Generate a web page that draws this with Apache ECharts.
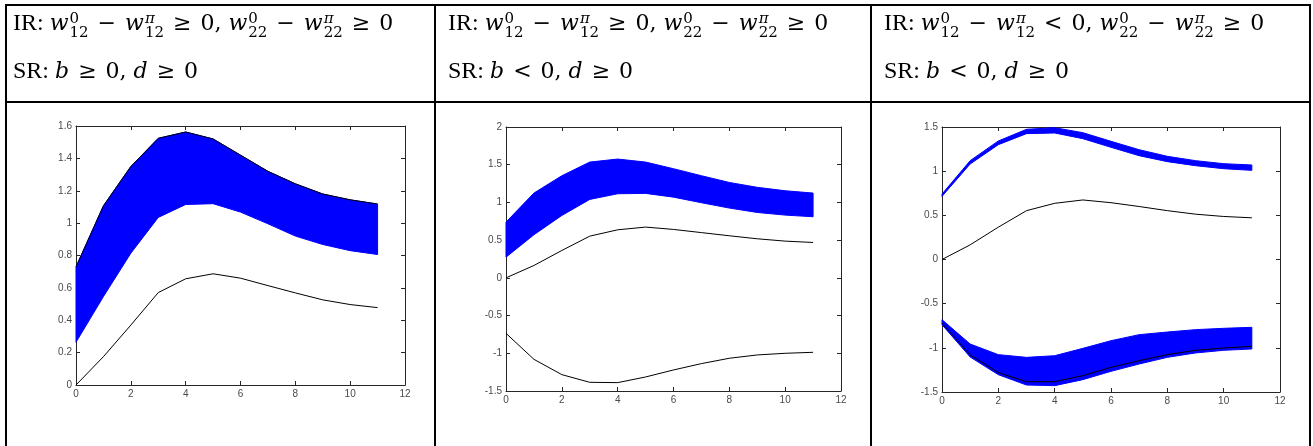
<!DOCTYPE html>
<html>
<head>
<meta charset="utf-8">
<script src="https://cdn.jsdelivr.net/npm/echarts@6/dist/echarts.min.js"></script>
<style>
  html, body { margin:0; padding:0; background:#fff; }
  #wrap { position:relative; width:1313px; height:446px; overflow:hidden; }
  #chart { position:absolute; left:0; top:0; width:1313px; height:446px; }
  .bl { position:absolute; background:#000; }
  .hd { position:absolute; font-family:"Liberation Serif","Times New Roman",serif; font-size:24px; line-height:28px; white-space:nowrap; color:#000; }
  .m { font-family:"DejaVu Serif", serif; font-size:22px; }
  .hd i { font-style:italic; }
  .ss { display:inline-block; vertical-align:-7px; font-family:"DejaVu Serif", serif; font-size:15px; line-height:14px; text-align:left; margin-left:1px; }
  .ss span { display:block; }
  .ss .pi { font-style:italic; }
  .op { margin:0 9px; }
</style>
</head>
<body>
<div id="wrap">
  <div id="chart"></div>
</div>
<script>
// ---------- data ----------
const steps = [0, 1, 2, 3, 4, 5, 6, 7, 8, 9, 10, 11];

// Panel 1
const p1BandUpper = [0.73, 1.107, 1.35, 1.524, 1.563, 1.52, 1.42, 1.32, 1.243, 1.18, 1.144, 1.118];
const p1BandLower = [0.264, 0.546, 0.814, 1.035, 1.115, 1.12, 1.068, 0.996, 0.92, 0.868, 0.83, 0.806];
const p1LineTop   = [0.73, 1.107, 1.35, 1.524, 1.563, 1.52, 1.42, 1.32, 1.243, 1.18, 1.144, 1.118];
const p1LineLow   = [0, 0.175, 0.37, 0.571, 0.656, 0.687, 0.66, 0.614, 0.569, 0.526, 0.497, 0.478];

// Panel 2
const p2BandUpper = [0.739, 1.124, 1.354, 1.535, 1.575, 1.535, 1.447, 1.354, 1.265, 1.2, 1.155, 1.124];
const p2BandLower = [0.274, 0.571, 0.827, 1.04, 1.115, 1.12, 1.07, 0.996, 0.925, 0.867, 0.832, 0.81];
const p2LinePos   = [0, 0.164, 0.363, 0.553, 0.637, 0.673, 0.642, 0.6, 0.558, 0.518, 0.487, 0.469];
const p2LineNeg   = [-0.735, -1.08, -1.283, -1.385, -1.389, -1.314, -1.221, -1.137, -1.066, -1.022, -1.0, -0.987];

// Panel 3
const p3TopBandUpper = [0.741, 1.119, 1.342, 1.474, 1.492, 1.436, 1.338, 1.243, 1.168, 1.119, 1.085, 1.07];
const p3TopBandLower = [0.715, 1.081, 1.3, 1.425, 1.432, 1.368, 1.27, 1.175, 1.108, 1.062, 1.028, 1.009];
const p3BotBandUpper = [-0.681, -0.957, -1.077, -1.108, -1.089, -1.006, -0.919, -0.851, -0.821, -0.794, -0.779, -0.768];
const p3BotBandLower = [-0.738, -1.104, -1.304, -1.421, -1.428, -1.36, -1.266, -1.183, -1.108, -1.058, -1.028, -1.013];
const p3LinePos      = [0, 0.166, 0.366, 0.553, 0.636, 0.674, 0.643, 0.6, 0.553, 0.513, 0.487, 0.472];
const p3LineNeg      = [-0.719, -1.08, -1.28, -1.383, -1.383, -1.315, -1.221, -1.145, -1.077, -1.028, -1.002, -0.983];

// axis ranges [min, max, interval]
const xRange  = [0, 12, 2];
const yRange1 = [0, 1.6, 0.2];
const yRange2 = [-1.5, 2, 0.5];
const yRange3 = [-1.5, 1.5, 0.5];

// header relation symbols per panel
const irFirstOps  = ['≥', '≥', '<'];
const irSecondOps = ['≥', '≥', '≥'];
const srOps       = ['≥', '<', '<'];
</script>
<script>
// ---------- table lines & headers (HTML) ----------
const wrap = document.getElementById('wrap');
function line(x, y, w, h) {
  const d = document.createElement('div');
  d.className = 'bl';
  d.style.left = x + 'px'; d.style.top = y + 'px';
  d.style.width = w + 'px'; d.style.height = h + 'px';
  wrap.appendChild(d);
}
line(5, 4, 1306, 2);
line(5, 101, 1306, 2);
line(5, 4, 2, 442);
line(434, 4, 2, 442);
line(870, 4, 2, 442);
line(1309, 4, 2, 442);

function ss(sup, sub, italicSup) {
  return '<span class="ss"><span' + (italicSup ? ' class="pi"' : '') + '>' + sup + '</span><span>' + sub + '</span></span>';
}
function m(t) { return '<span class="m">' + t + '</span>'; }
const colX = [13, 448, 884];
colX.forEach((cx, i) => {
  const l1 = document.createElement('div');
  l1.className = 'hd';
  l1.style.left = cx + 'px';
  l1.style.top = '8px';
  l1.innerHTML = 'IR: ' + m('<i>w</i>') + ss('0', '12') + m('<span class="op">−</span><i>w</i>') + ss('π', '12', true) +
    m('<span class="op">' + irFirstOps[i] + '</span>0, <i>w</i>') + ss('0', '22') + m('<span class="op">−</span><i>w</i>') + ss('π', '22', true) +
    m('<span class="op">' + irSecondOps[i] + '</span>0');
  wrap.appendChild(l1);
  const l2 = document.createElement('div');
  l2.className = 'hd';
  l2.style.left = cx + 'px';
  l2.style.top = '56px';
  l2.innerHTML = 'SR: ' + m('<i>b</i><span class="op">' + srOps[i] + '</span>0, <i>d</i><span class="op">≥</span>0');
  wrap.appendChild(l2);
});
</script>
<script>
// ---------- charts ----------
const chart = echarts.init(document.getElementById('chart'), null, { renderer: 'canvas' });

const grids = [
  { left: 76, top: 126, width: 329, height: 259 },
  { left: 506, top: 127, width: 335, height: 264 },
  { left: 942, top: 127, width: 338, height: 265 }
];
const yRanges = [yRange1, yRange2, yRange3];
const axisCol = '#262626';
const labelCol = '#4a4a4a';

function fmt(v) { return String(+v.toFixed(2)); }

const xAxes = [], yAxes = [];
grids.forEach((g, i) => {
  ['bottom', 'top'].forEach(pos => {
    xAxes.push({
      type: 'value', gridIndex: i, position: pos, min: xRange[0], max: xRange[1], interval: xRange[2],
      axisLine: { show: true, onZero: false, lineStyle: { color: axisCol, width: 1 } },
      axisTick: { show: true, inside: true, length: 4, lineStyle: { color: axisCol } },
      axisLabel: { show: pos === 'bottom', color: labelCol, fontSize: 10, fontFamily: 'Liberation Sans, Arial, sans-serif', margin: 4, formatter: fmt },
      splitLine: { show: false }
    });
  });
  const yr = yRanges[i];
  ['left', 'right'].forEach(pos => {
    yAxes.push({
      type: 'value', gridIndex: i, position: pos, min: yr[0], max: yr[1], interval: yr[2],
      axisLine: { show: true, onZero: false, lineStyle: { color: axisCol, width: 1 } },
      axisTick: { show: true, inside: true, length: 4, lineStyle: { color: axisCol } },
      axisLabel: { show: pos === 'left', color: labelCol, fontSize: 10, fontFamily: 'Liberation Sans, Arial, sans-serif', margin: 4, formatter: fmt },
      splitLine: { show: false }
    });
  });
});

function pts(arr) { return steps.map((s, k) => [s, arr[k]]); }

// Filled band between lower and upper curves, one polygon built from the data via api.coord
function band(gi, lower, upper) {
  return {
    type: 'custom', xAxisIndex: gi * 2, yAxisIndex: gi * 2, silent: true, z: 2,
    data: steps.map((s, k) => [s, lower[k], upper[k]]),
    encode: { x: 0, y: [1, 2] },
    renderItem: function (params, api) {
      if (params.dataIndexInside !== 0) return null;
      const n = params.dataInsideLength;
      const top = [], bot = [];
      for (let k = 0; k < n; k++) {
        const x = api.value(0, k);
        bot.push(api.coord([x, api.value(1, k)]));
        top.push(api.coord([x, api.value(2, k)]));
      }
      return {
        type: 'polygon',
        shape: { points: top.concat(bot.reverse()) },
        style: { fill: '#0000ff', stroke: '#0000ff', lineWidth: 1 }
      };
    }
  };
}
function blk(gi, arr) {
  return {
    type: 'line', xAxisIndex: gi * 2, yAxisIndex: gi * 2, data: pts(arr), symbol: 'none', silent: true,
    lineStyle: { color: '#000000', width: 1 }, z: 3
  };
}

const series = [
  band(0, p1BandLower, p1BandUpper),
  blk(0, p1LineTop), blk(0, p1LineLow),
  band(1, p2BandLower, p2BandUpper),
  blk(1, p2LinePos), blk(1, p2LineNeg),
  band(2, p3TopBandLower, p3TopBandUpper),
  band(2, p3BotBandLower, p3BotBandUpper),
  blk(2, p3LinePos), blk(2, p3LineNeg)
];

chart.setOption({
  animation: false,
  backgroundColor: 'transparent',
  grid: grids,
  xAxis: xAxes,
  yAxis: yAxes,
  series: series
});
</script>
</body>
</html>
